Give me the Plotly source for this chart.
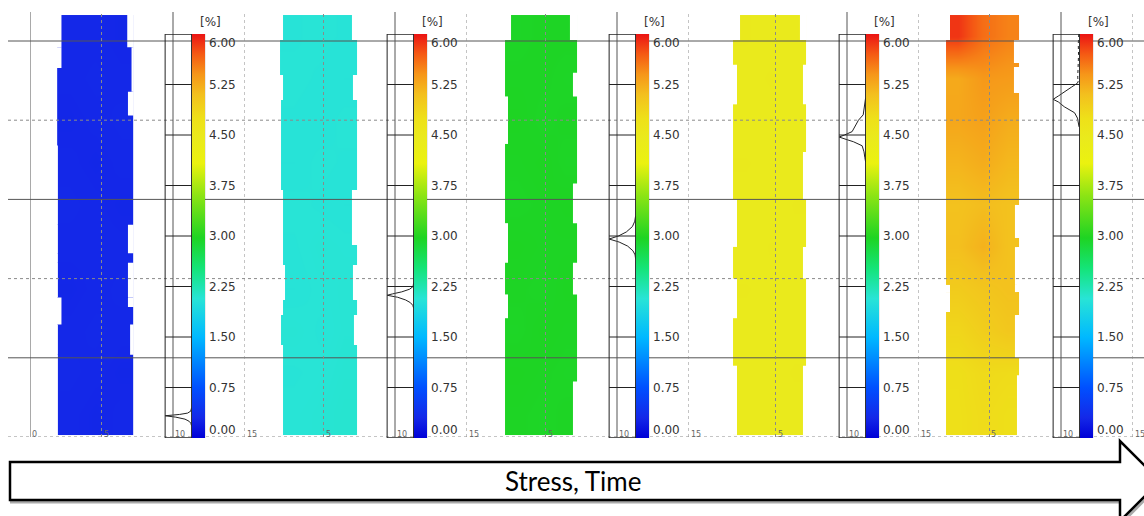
import numpy as np
import plotly.graph_objects as go

W, H = 1144, 516

# ---- strain scale -------------------------------------------------------
strain_ticks = [0.0, 0.75, 1.5, 2.25, 3.0, 3.75, 4.5, 5.25, 6.0]
strain_colors = [
    [0.00, "rgb(0,0,215)"],
    [0.05, "rgb(20,40,232)"],
    [0.125, "rgb(0,80,255)"],
    [0.25, "rgb(0,185,255)"],
    [0.345, "rgb(40,228,214)"],
    [0.42, "rgb(20,228,120)"],
    [0.495, "rgb(30,212,35)"],
    [0.60, "rgb(140,228,20)"],
    [0.68, "rgb(235,242,15)"],
    [0.742, "rgb(234,234,28)"],
    [0.79, "rgb(238,225,25)"],
    [0.85, "rgb(243,192,30)"],
    [0.90, "rgb(246,150,25)"],
    [0.95, "rgb(245,90,20)"],
    [1.00, "rgb(235,20,20)"],
]

# ---- specimen outlines: (y_low, y_high, x_left, x_right) per band -------
outline_1 = [(24.6, 26.64, 2.2, 6.8), (23.3, 24.6, 2.2, 7.1), (21.8, 23.3, 1.9, 7.1),
             (20.3, 21.8, 1.9, 6.85), (18.4, 20.3, 1.9, 7.2), (13.4, 18.4, 1.95, 7.2),
             (11.6, 13.4, 1.95, 6.85), (11.0, 11.6, 1.95, 7.2), (8.8, 11.0, 1.95, 6.85),
             (8.2, 8.8, 2.2, 6.85), (7.1, 8.2, 2.2, 7.2), (5.2, 7.1, 1.95, 7.0),
             (0.13, 5.2, 1.95, 7.2)]
outline_2 = [(25.06, 26.64, 2.17, 6.99), (22.85, 25.06, 1.96, 7.34), (21.28, 22.85, 2.17, 7.06),
             (15.59, 21.28, 2.03, 7.34), (12.12, 15.59, 2.17, 6.99), (10.86, 12.12, 2.17, 7.34),
             (8.65, 10.86, 2.31, 7.06), (7.70, 8.65, 2.17, 7.34), (5.81, 7.70, 2.03, 7.13),
             (0.13, 5.81, 2.17, 7.34)]
outline_3 = [(25.06, 26.64, 2.59, 6.71), (23.0, 25.06, 2.17, 7.2), (21.5, 23.0, 2.17, 6.92),
             (18.5, 21.5, 2.38, 7.2), (16.0, 18.5, 2.17, 7.2), (13.5, 16.0, 2.17, 6.92),
             (11.0, 13.5, 2.38, 7.2), (9.0, 11.0, 2.17, 6.92), (7.5, 9.0, 2.38, 7.2),
             (3.5, 7.5, 2.17, 7.2), (0.13, 3.5, 2.17, 6.92)]
outline_4 = [(25.06, 26.64, 2.52, 6.71), (23.5, 25.06, 2.03, 7.13), (21.0, 23.5, 2.31, 6.92),
             (18.0, 21.0, 2.03, 7.13), (15.0, 18.0, 2.03, 6.92), (12.0, 15.0, 2.31, 7.13),
             (10.0, 12.0, 2.03, 6.92), (7.5, 10.0, 2.31, 7.13), (4.5, 7.5, 2.03, 7.13),
             (0.13, 4.5, 2.31, 6.92)]
outline_5 = [(25.06, 26.64, 2.24, 7.06), (23.61, 25.06, 1.96, 6.71), (23.36, 23.61, 1.96, 7.06),
             (21.72, 23.36, 1.96, 6.71), (14.65, 21.72, 1.96, 7.06), (12.56, 14.65, 1.96, 6.78),
             (11.99, 12.56, 1.96, 7.06), (9.6, 11.99, 1.96, 6.78), (9.15, 9.6, 2.24, 6.78),
             (7.89, 9.15, 2.24, 7.06), (7.70, 7.89, 1.96, 7.06), (4.99, 7.70, 1.96, 6.78),
             (3.9, 4.99, 1.96, 7.06), (0.13, 3.9, 1.96, 6.92)]

# ---- strain fields [%]: rows bottom -> top, columns left / centre / right
field_1 = [[0.30, 0.29, 0.30], [0.31, 0.30, 0.29], [0.30, 0.31, 0.30], [0.29, 0.30, 0.31],
           [0.30, 0.30, 0.30], [0.31, 0.30, 0.29], [0.30, 0.29, 0.30], [0.29, 0.30, 0.31],
           [0.30, 0.31, 0.30], [0.30, 0.30, 0.29]]
field_2 = [[2.07, 2.08, 2.10], [2.06, 2.07, 2.09], [2.08, 2.06, 2.08], [2.05, 2.07, 2.08],
           [2.06, 2.08, 2.07], [2.07, 2.06, 2.05], [2.05, 2.07, 2.06], [2.06, 2.05, 2.07],
           [2.07, 2.06, 2.05], [2.06, 2.07, 2.06]]
field_3 = [[2.96, 2.95, 2.96], [2.97, 2.96, 2.95], [2.95, 2.97, 2.96], [2.96, 2.95, 2.97],
           [2.97, 2.96, 2.96], [2.95, 2.96, 2.97], [2.96, 2.97, 2.95], [2.97, 2.95, 2.96],
           [2.96, 2.96, 2.95], [2.95, 2.96, 2.96]]
field_4 = [[4.46, 4.45, 4.46], [4.45, 4.46, 4.47], [4.46, 4.45, 4.46], [4.47, 4.46, 4.45],
           [4.45, 4.47, 4.46], [4.46, 4.45, 4.47], [4.47, 4.46, 4.45], [4.45, 4.46, 4.46],
           [4.46, 4.47, 4.45], [4.47, 4.46, 4.46]]
field_5 = [[4.75, 4.80, 4.76], [4.76, 4.82, 4.80], [4.86, 4.95, 5.02], [4.98, 5.04, 5.08],
           [5.10, 5.20, 5.08], [5.08, 5.12, 5.08], [5.18, 5.24, 5.16], [5.28, 5.32, 5.24],
           [5.26, 5.38, 5.36], [5.86, 5.60, 5.50]]

# ---- strain histograms (strain [%], relative frequency) -----------------
hist_strain_1 = [0.45, 0.40, 0.37, 0.35, 0.33, 0.31, 0.28, 0.25, 0.22, 0.18]
hist_freq_1 = [0.0, 0.03, 0.15, 0.45, 1.0, 0.6, 0.25, 0.1, 0.03, 0.0]
hist_strain_2 = [2.30, 2.25, 2.21, 2.17, 2.14, 2.12, 2.09, 2.05, 2.01, 1.97, 1.93]
hist_freq_2 = [0.0, 0.02, 0.15, 0.45, 0.8, 1.0, 0.6, 0.3, 0.12, 0.03, 0.0]
hist_strain_3 = [3.30, 3.22, 3.14, 3.06, 3.00, 2.955, 2.91, 2.85, 2.78, 2.72, 2.66]
hist_freq_3 = [0.0, 0.03, 0.12, 0.35, 0.65, 1.0, 0.62, 0.3, 0.1, 0.02, 0.0]
hist_strain_4 = [5.05, 4.98, 4.88, 4.80, 4.72, 4.62, 4.55, 4.50, 4.47, 4.43, 4.40, 4.34, 4.25, 4.17, 4.10]
hist_freq_4 = [0.0, 0.03, 0.06, 0.09, 0.27, 0.4, 0.51, 0.8, 1.0, 0.7, 0.46, 0.13, 0.06, 0.03, 0.0]
hist_strain_5 = [5.30, 5.27, 5.21, 5.14, 5.08, 5.03, 4.99, 4.92, 4.83, 4.75, 4.69, 4.62]
hist_freq_5 = [0.05, 0.08, 0.31, 0.55, 0.8, 1.0, 0.8, 0.58, 0.19, 0.08, 0.04, 0.02]
tail_strain_5 = [6.0, 5.85, 5.7, 5.55, 5.45, 5.35, 5.30]
tail_freq_5 = [0.03, 0.05, 0.04, 0.06, 0.05, 0.07, 0.05]

outlines = [outline_1, outline_2, outline_3, outline_4, outline_5]
fields = [field_1, field_2, field_3, field_4, field_5]
hists = [(hist_strain_1, hist_freq_1), (hist_strain_2, hist_freq_2), (hist_strain_3, hist_freq_3),
         (hist_strain_4, hist_freq_4), (hist_strain_5, hist_freq_5)]

# ---- layout geometry (pixels) ------------------------------------------
panel_left_px = [30, 252, 474, 704, 918]   # pixel of x = 0 in each panel
PX_PER_X = 14.3                            # pixels per specimen x unit
X_SPAN = 15.0
Y_TOP = 437 / 15.84                        # specimen y range upper bound
BOX_L, BAR_L, BAR_R = 9.45, 11.3, 12.21    # histogram box / colour bar in x units


def fx(p):
    return p / W


def fy(p):
    return 1 - p / H


fig = go.Figure()
layout_axes = {}
shapes = []
annotations = []

layout_axes["yaxis"] = dict(domain=[fy(437), 1.0], range=[0, Y_TOP], visible=False, anchor="x")
layout_axes["yaxis2"] = dict(domain=[fy(438), fy(34)], range=[0, 6], visible=False, anchor="x6")

for i in range(5):
    n = i + 1
    xa = "x" if n == 1 else f"x{n}"
    xname = "xaxis" if n == 1 else f"xaxis{n}"
    hx = f"x{n + 5}"
    hname = f"xaxis{n + 5}"
    x0 = panel_left_px[i]
    layout_axes[xname] = dict(domain=[fx(x0), fx(x0 + X_SPAN * PX_PER_X)], range=[0, X_SPAN],
                              visible=False, anchor="y")
    layout_axes[hname] = dict(domain=[fx(x0 + BOX_L * PX_PER_X), fx(x0 + BAR_L * PX_PER_X)],
                              range=[1.0, 0.0], visible=False, anchor="y2")

    outline = outlines[i]
    xl_min = min(b[2] for b in outline)
    xr_max = max(b[3] for b in outline)
    y_lo = min(b[0] for b in outline)
    y_hi = max(b[1] for b in outline)
    field = fields[i]
    nrow, ncol = len(field), len(field[0])
    x_edges = list(np.linspace(xl_min, xr_max, ncol + 1))
    y_edges = list(np.linspace(y_lo, y_hi, nrow + 1))

    fig.add_trace(go.Heatmap(
        z=field, x=x_edges, y=y_edges, zmin=0, zmax=6, zsmooth="best",
        colorscale=strain_colors, xaxis=xa, yaxis="y", hoverinfo="skip",
        colorbar=dict(x=fx(x0 + BAR_L * PX_PER_X), xanchor="left", xref="paper", xpad=0,
                      y=fy(34), yanchor="top", yref="paper", ypad=0,
                      len=404, lenmode="pixels", thickness=13, thicknessmode="pixels",
                      outlinewidth=0, borderwidth=0, showticklabels=False, ticks=""),
    ))

    # white cut-outs outside the specimen edge in each band
    for (b0, b1, xl, xr) in outline:
        if xl > xl_min:
            shapes.append(dict(type="rect", xref=xa, yref="y", x0=xl_min - 0.05, x1=xl,
                               y0=b0, y1=b1, fillcolor="white", line=dict(width=0)))
        if xr < xr_max:
            shapes.append(dict(type="rect", xref=xa, yref="y", x0=xr, x1=xr_max + 0.05,
                               y0=b0, y1=b1, fillcolor="white", line=dict(width=0)))

    # strain distribution curve
    hs, hf = hists[i]
    fig.add_trace(go.Scatter(x=hf, y=hs, xaxis=hx, yaxis="y2", mode="lines",
                             line=dict(color="#222", width=1), hoverinfo="skip",
                             showlegend=False))
    if n == 5:
        fig.add_trace(go.Scatter(x=tail_freq_5, y=tail_strain_5, xaxis=hx, yaxis="y2",
                                 mode="lines", line=dict(color="#222", width=1, dash="dot"),
                                 hoverinfo="skip", showlegend=False))

# ---- grid lines (drawn over the specimens) ------------------------------
for yv, solid in [(0, False), (5, True), (10, False), (15, True), (20, False), (25, True)]:
    shapes.append(dict(type="line", xref="paper", yref="y", x0=fx(8), x1=1.0, y0=yv, y1=yv,
                       line=dict(color="#555" if solid else "#8a8a8a", width=1,
                                 dash="solid" if solid else "dot")))

for i in range(5):
    n = i + 1
    xa = "x" if n == 1 else f"x{n}"
    grid_x = [(5, False), (10, True), (15, False)]
    if n == 1:
        grid_x = [(0, True)] + grid_x
    for xv, solid in grid_x:
        shapes.append(dict(type="line", xref=xa, yref="y", x0=xv, x1=xv, y0=0, y1=26.83,
                           line=dict(color="#555" if solid else "#8a8a8a", width=1,
                                     dash="solid" if solid else "dot")))
    # histogram box and colour-bar frame
    shapes.append(dict(type="rect", xref=xa, yref="y2", x0=BOX_L, x1=BAR_R, y0=0, y1=6,
                       line=dict(color="#222", width=1)))
    shapes.append(dict(type="line", xref=xa, yref="y2", x0=BAR_L, x1=BAR_L, y0=0, y1=6,
                       line=dict(color="#222", width=1)))
    for t in strain_ticks:
        shapes.append(dict(type="line", xref=xa, yref="y2", x0=BOX_L, x1=BAR_R, y0=t, y1=t,
                           line=dict(color="#222", width=1)))
        shift = -9 if t == 6.0 else (8 if t == 0.0 else 0)
        annotations.append(dict(text=f"{t:.2f}", xref=xa, yref="y2", x=BAR_R + 0.2, y=t,
                                xanchor="left", yanchor="middle", yshift=shift, showarrow=False,
                                font=dict(family="DejaVu Sans", size=12, color="#333")))
    annotations.append(dict(text="[%]", xref=xa, yref="paper", x=BAR_L + 1.33, y=fy(22),
                            xanchor="center", yanchor="middle", showarrow=False,
                            font=dict(family="DejaVu Sans", size=12, color="#333")))
    labels = [0, 5, 10, 15] if n == 1 else [5, 10, 15]
    for xv in labels:
        annotations.append(dict(text=str(xv), xref=xa, yref="paper", x=xv, y=fy(434),
                                xanchor="left", yanchor="middle", xshift=0, showarrow=False,
                                font=dict(family="DejaVu Sans", size=8, color="#666")))

# ---- "Stress, Time" arrow ------------------------------------------------
arrow_px = [(10, 462), (1120, 462), (1120, 441), (1160, 481), (1120, 521), (1120, 500), (10, 500)]


def arrow_path(dx=0.0, dy=0.0):
    pts = [f"{fx(x + dx):.5f},{fy(y + dy):.5f}" for x, y in arrow_px]
    return "M " + " L ".join(pts) + " Z"


shapes.append(dict(type="path", xref="paper", yref="paper", path=arrow_path(1.5, 2),
                   line=dict(color="#aaa", width=3)))
shapes.append(dict(type="path", xref="paper", yref="paper", path=arrow_path(),
                   fillcolor="white", line=dict(color="black", width=2.5)))
annotations.append(dict(text="Stress, Time", xref="paper", yref="paper", x=fx(573), y=fy(481),
                        xanchor="center", yanchor="middle", showarrow=False,
                        font=dict(family="Lato", size=26, color="black")))

fig.update_layout(
    width=W, height=H, margin=dict(l=0, r=0, t=0, b=0),
    paper_bgcolor="white", plot_bgcolor="white", showlegend=False,
    shapes=shapes, annotations=annotations, **layout_axes,
)

fig.write_html("out.html")
